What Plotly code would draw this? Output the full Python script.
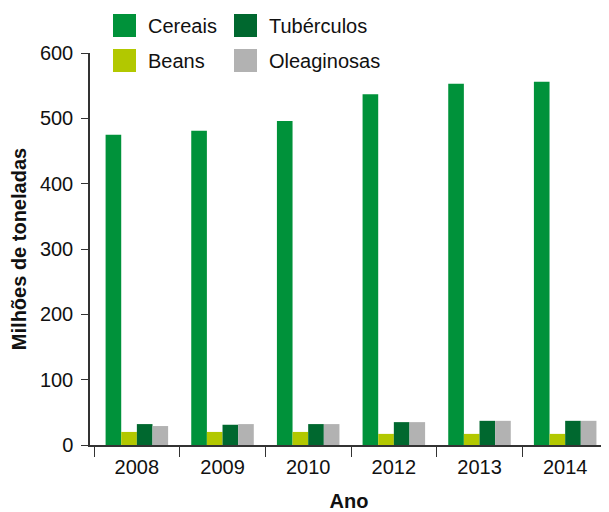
import plotly.graph_objects as go

anos = ["2008", "2009", "2010", "2012", "2013", "2014"]
cereais = [475, 481, 496, 537, 553, 556]
beans = [20, 20, 20, 17, 17, 17]
tuberculos = [32, 31, 32, 35, 37, 37]
oleaginosas = [29, 32, 32, 35, 37, 37]

series = [
    ("Cereais", cereais, "#00923A"),
    ("Beans", beans, "#B2C800"),
    ("Tubérculos", tuberculos, "#00682F"),
    ("Oleaginosas", oleaginosas, "#B2B2B2"),
]

fig = go.Figure()
for name, vals, col in series:
    fig.add_trace(go.Bar(x=anos, y=vals, name=name, marker_color=col,
                         marker_line_width=0, showlegend=False))

FONT = "Liberation Sans, Arial, sans-serif"

# page has an 8px body offset; figure coordinates = page - 8
OFF = 8
W, H = 601, 504
ml, mr, mt, mb = 82, 1, 45, 67
pw, ph = W - ml - mr, H - mt - mb

def px2paper(x, y):
    x -= OFF
    y -= OFF
    return (x - ml) / pw, (H - mb - y) / ph

legend_items = [
    ("Cereais", "#00923A", 113, 14),
    ("Tubérculos", "#00682F", 234, 14),
    ("Beans", "#B2C800", 113, 49),
    ("Oleaginosas", "#B2B2B2", 234, 49),
]
for name, col, lx, ly in legend_items:
    x0, y0 = px2paper(lx, ly + 23)
    x1, y1 = px2paper(lx + 23, ly)
    fig.add_shape(type="rect", xref="paper", yref="paper", x0=x0, y0=y0, x1=x1, y1=y1,
                  fillcolor=col, line_width=0)
    tx, ty = px2paper(lx + 33, ly + 12)
    fig.add_annotation(xref="paper", yref="paper", x=tx, y=ty, text=name, showarrow=False,
                       xanchor="left", yanchor="middle", font=dict(family=FONT, size=20, color="#111"))

fig.update_layout(
    width=W, height=H,
    margin=dict(l=ml, r=mr, t=mt, b=mb),
    barmode="group", bargap=0.27, bargroupgap=0,
    plot_bgcolor="white", paper_bgcolor="white",
    font=dict(family=FONT, size=20, color="#111"),
    xaxis=dict(
        type="category", tickson="boundaries", ticks="outside", ticklen=10,
        range=[-0.547, 5.5],
        tickcolor="#333", showline=True, linecolor="#333", linewidth=1.5,
        showgrid=False, tickfont=dict(size=20), automargin=False,
        ticklabelstandoff=3,
        title=dict(text="<b>Ano</b>", font=dict(size=20), standoff=20),
    ),
    yaxis=dict(
        range=[0, 600], tickvals=[0, 100, 200, 300, 400, 500, 600],
        ticks="outside", ticklen=7, tickcolor="#333", showline=True,
        linecolor="#333", linewidth=1.5, showgrid=False, zeroline=False,
        tickfont=dict(size=20), automargin=False, ticklabelstandoff=4,
        title=dict(text="<b>Milhões de toneladas</b>", font=dict(size=20), standoff=8),
    ),
)

fig.write_html("out.html")
